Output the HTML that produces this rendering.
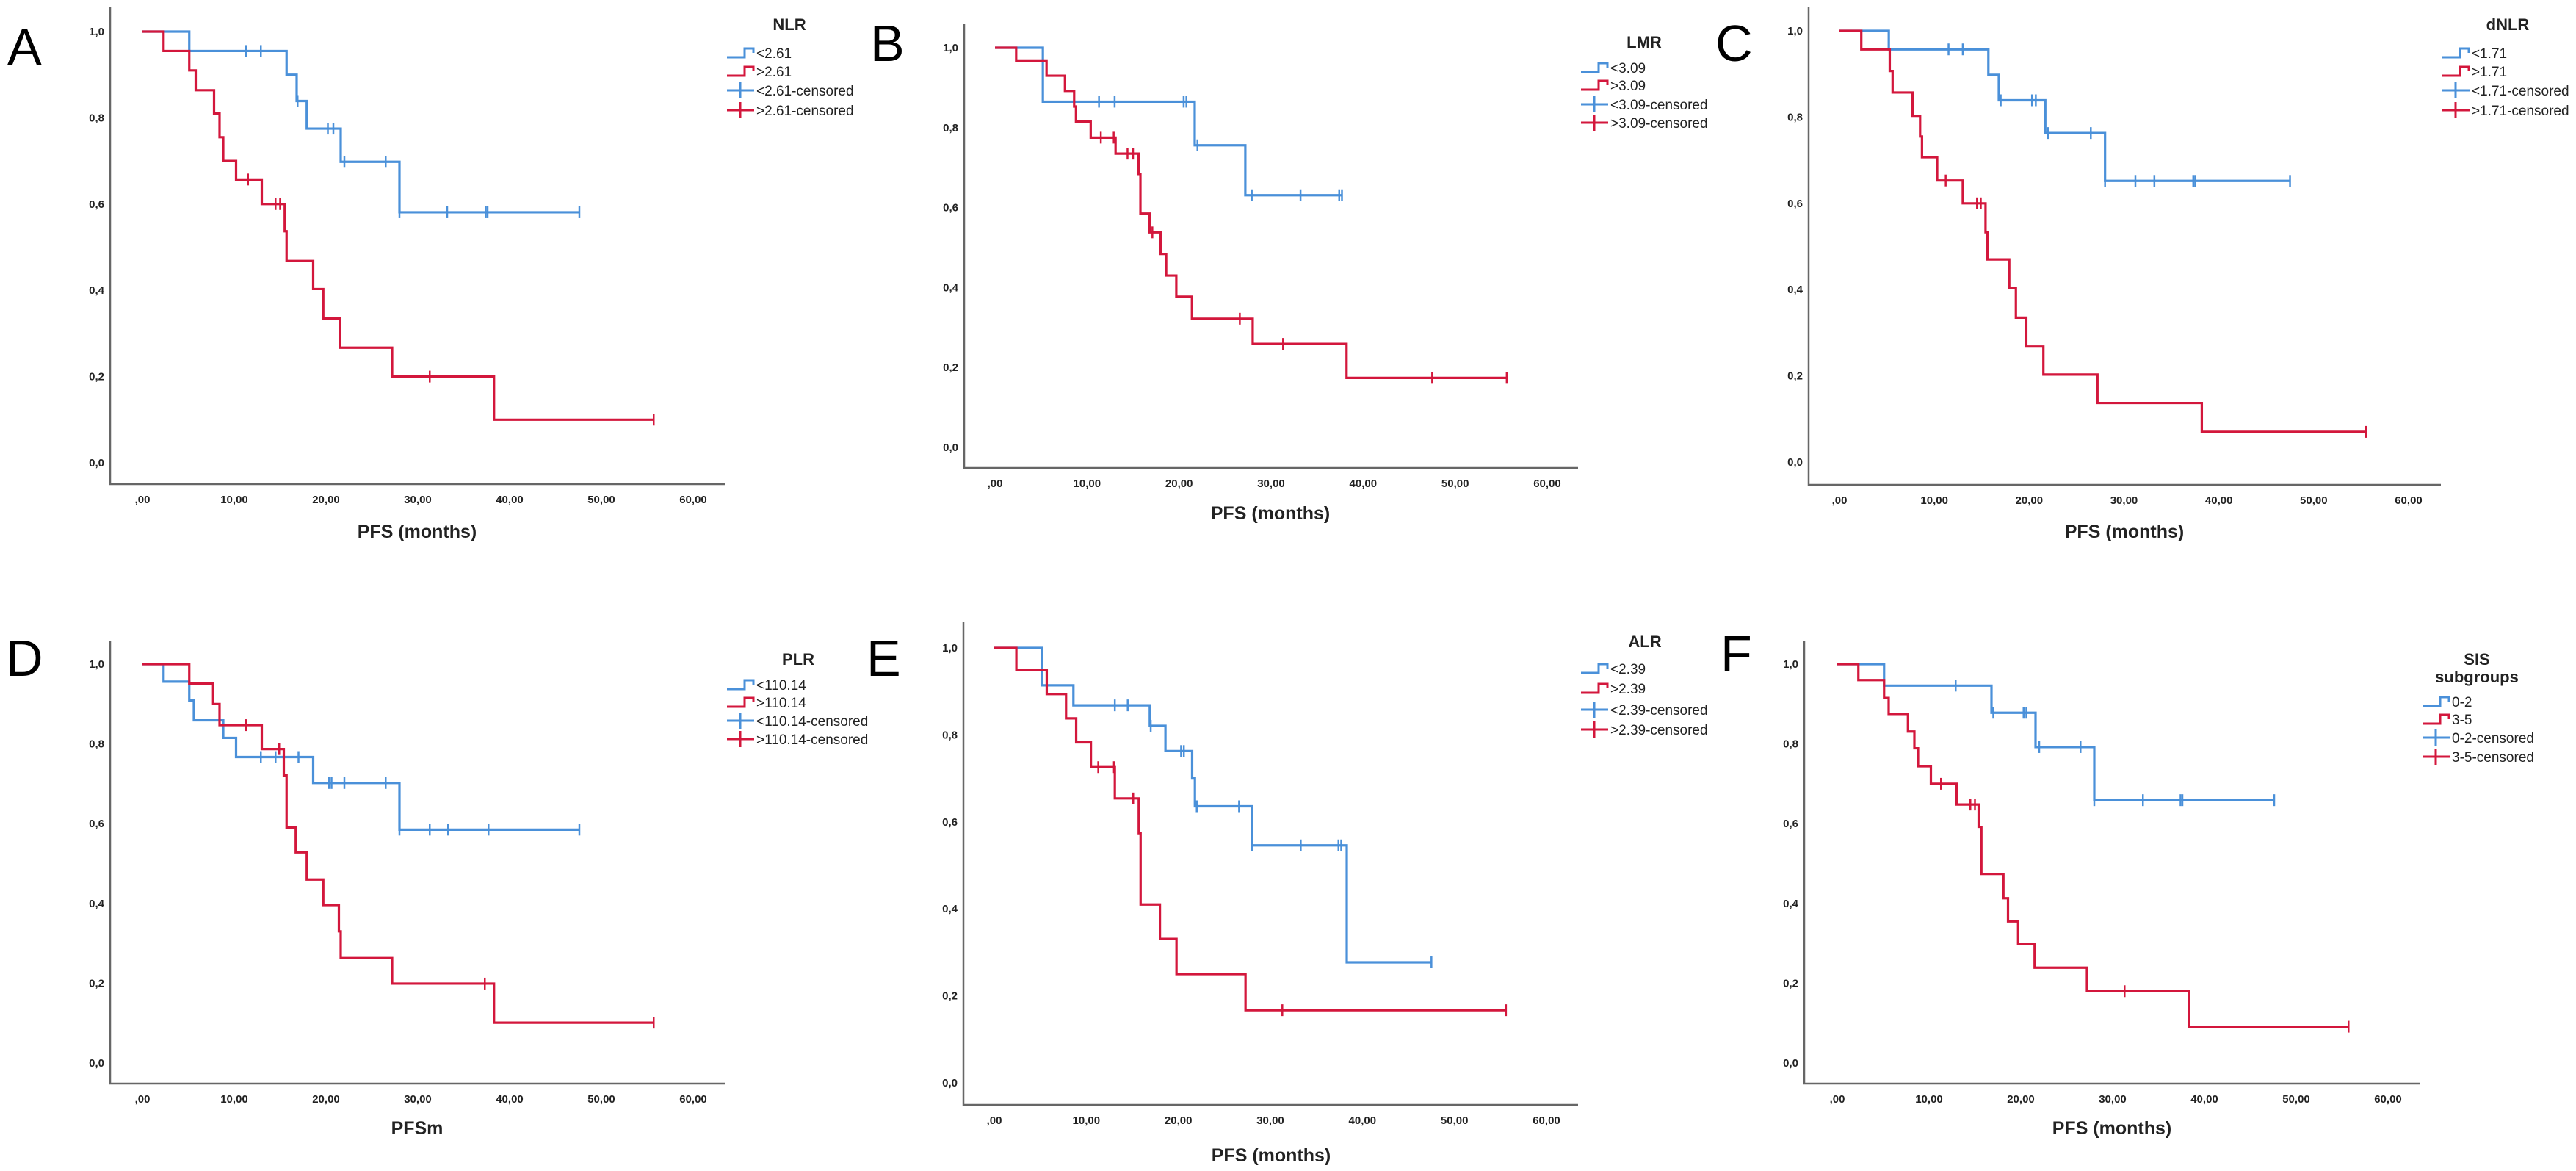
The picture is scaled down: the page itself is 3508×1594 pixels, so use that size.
<!DOCTYPE html>
<html><head><meta charset="utf-8"><style>
html,body{margin:0;padding:0;background:#fff;}
svg{display:block;font-family:"Liberation Sans",sans-serif;}
.tk{font-size:15px;font-weight:bold;fill:#222;}
.lg{font-size:19px;fill:#222;}
.lt{font-size:22px;font-weight:bold;fill:#222;}
.at{font-size:25px;font-weight:bold;fill:#222;}
.pl{font-size:70px;fill:#000;}
</style></head><body>
<svg id="fig" width="3508" height="1594" viewBox="0 0 3508 1594"></svg>
<script>
// ---- data (months, survival) ----
const xTicks=[0,10,20,30,40,50,60];
const xTickLabels=[",00","10,00","20,00","30,00","40,00","50,00","60,00"];
const yTicks=[0,0.2,0.4,0.6,0.8,1.0];
const yTickLabels=["0,0","0,2","0,4","0,6","0,8","1,0"];

const A_blueT=[5.1,15.7,16.8,17.9,21.6,28.0];
const A_blueS=[0.955,0.90,0.839,0.775,0.698,0.581];
const A_blueC=[11.3,12.9,16.9,20.2,20.8,22.0,26.5,28.0,33.2,37.4,37.6,47.6];
const A_redT=[2.3,5.1,5.8,7.8,8.4,8.8,10.2,13.0,15.5,15.7,18.6,19.7,21.5,27.2,38.3];
const A_redS=[0.955,0.91,0.864,0.81,0.755,0.70,0.657,0.60,0.537,0.468,0.403,0.335,0.267,0.20,0.10];
const A_redC=[11.5,14.5,15.0,31.3,55.7];

const B_blueT=[5.2,21.7,27.2];
const B_blueS=[0.865,0.756,0.631];
const B_blueC=[11.3,13.0,20.5,20.8,22.0,27.9,33.2,37.4,37.7];
const B_redT=[2.3,5.6,7.6,8.6,8.8,10.4,13.1,15.6,15.8,16.8,18.0,18.6,19.7,21.4,28.0,38.2];
const B_redS=[0.968,0.93,0.892,0.853,0.815,0.775,0.735,0.684,0.585,0.538,0.484,0.43,0.377,0.322,0.259,0.174];
const B_redC=[11.5,12.9,14.4,15.0,17.1,26.6,31.3,47.5,55.6];

const C_blueT=[5.2,15.7,16.8,21.7,28.0];
const C_blueS=[0.957,0.898,0.839,0.763,0.652];
const C_blueC=[11.5,13.0,17.0,20.3,20.7,22.0,26.5,28.0,31.2,33.2,37.3,37.5,47.5];
const C_redT=[2.3,5.3,5.6,7.7,8.5,8.7,10.3,13.0,15.4,15.6,17.9,18.6,19.7,21.5,27.2,38.2];
const C_redS=[0.957,0.907,0.857,0.803,0.755,0.707,0.653,0.60,0.533,0.47,0.403,0.335,0.268,0.203,0.137,0.07];
const C_redC=[11.2,14.5,14.9,55.5];

const D_blueT=[2.3,5.1,5.6,8.8,10.2,18.6,28.0];
const D_blueS=[0.956,0.909,0.859,0.815,0.767,0.702,0.585];
const D_blueC=[12.9,14.5,17.0,20.3,20.6,22.0,26.5,28.0,31.3,33.3,37.7,47.6];
const D_redT=[5.1,7.7,8.4,13.0,15.4,15.7,16.7,17.9,19.7,21.4,21.6,27.2,38.3];
const D_redS=[0.951,0.90,0.847,0.787,0.721,0.59,0.528,0.46,0.396,0.33,0.263,0.199,0.101];
const D_redC=[11.3,14.9,37.3,55.7];

const E_blueT=[5.2,8.6,16.9,18.6,21.5,21.8,28.0,38.3];
const E_blueS=[0.914,0.868,0.821,0.763,0.70,0.636,0.546,0.277];
const E_blueC=[13.1,14.5,17.0,20.3,20.6,22.0,26.6,28.0,33.3,37.4,37.7,47.5];
const E_redT=[2.4,5.7,7.8,8.9,10.5,13.1,15.7,15.9,18.0,19.8,27.3];
const E_redS=[0.95,0.894,0.838,0.783,0.726,0.654,0.574,0.41,0.331,0.25,0.167];
const E_redC=[11.3,13.0,15.1,31.3,55.6];

const F_blueT=[5.1,16.8,21.6,28.0];
const F_blueS=[0.946,0.878,0.792,0.659];
const F_blueC=[12.9,17.0,20.3,20.6,22.0,26.5,28.0,33.3,37.4,37.6,47.6];
const F_redT=[2.3,5.1,5.6,7.7,8.4,8.8,10.2,13.0,15.4,15.7,18.1,18.6,19.7,21.5,27.2,38.3];
const F_redS=[0.96,0.915,0.875,0.831,0.789,0.744,0.70,0.648,0.592,0.474,0.413,0.355,0.298,0.239,0.18,0.091];
const F_redC=[11.3,14.5,15.0,31.3,55.7];

// ---- layout ----
const panels=[
 {id:"a",letter:"A",lx:10,ly:88,ax:150,top:9,xb:659,right:987,y1:43,y0:630,x0:194,x60:944,title:"PFS (months)",tx:568,ty:732,
  legT:["NLR"],legX:1075,legY:[33],ent:[72,97,123,150],symX:990,labs:["<2.61",">2.61","<2.61-censored",">2.61-censored"],
  bT:A_blueT,bS:A_blueS,bC:A_blueC,rT:A_redT,rS:A_redS,rC:A_redC},
 {id:"b",letter:"B",lx:1185,ly:83,ax:1313,top:33,xb:637,right:2149,y1:65,y0:609,x0:1355,x60:2107,title:"PFS (months)",tx:1730,ty:707,
  legT:["LMR"],legX:2239,legY:[57],ent:[92,116,142,167],symX:2153,labs:["<3.09",">3.09","<3.09-censored",">3.09-censored"],
  bT:B_blueT,bS:B_blueS,bC:B_blueC,rT:B_redT,rS:B_redS,rC:B_redC},
 {id:"c",letter:"C",lx:2336,ly:83,ax:2463,top:9,xb:660,right:3324,y1:42,y0:629,x0:2505,x60:3280,title:"PFS (months)",tx:2893,ty:732,
  legT:["dNLR"],legX:3415,legY:[33],ent:[72,97,123,150],symX:3326,labs:["<1.71",">1.71","<1.71-censored",">1.71-censored"],
  bT:C_blueT,bS:C_blueS,bC:C_blueC,rT:C_redT,rS:C_redS,rC:C_redC},
 {id:"d",letter:"D",lx:8,ly:920,ax:150,top:873,xb:1475,right:987,y1:904,y0:1447,x0:194,x60:944,title:"PFSm",tx:568,ty:1544,
  legT:["PLR"],legX:1087,legY:[897],ent:[932,956,981,1006],symX:990,labs:["<110.14",">110.14","<110.14-censored",">110.14-censored"],
  bT:D_blueT,bS:D_blueS,bC:D_blueC,rT:D_redT,rS:D_redS,rC:D_redC},
 {id:"e",letter:"E",lx:1180,ly:920,ax:1312,top:847,xb:1504,right:2149,y1:882,y0:1474,x0:1354,x60:2106,title:"PFS (months)",tx:1731,ty:1581,
  legT:["ALR"],legX:2240,legY:[873],ent:[910,937,966,993],symX:2153,labs:["<2.39",">2.39","<2.39-censored",">2.39-censored"],
  bT:E_blueT,bS:E_blueS,bC:E_blueC,rT:E_redT,rS:E_redS,rC:E_redC},
 {id:"f",letter:"F",lx:2343,ly:914,ax:2457,top:873,xb:1475,right:3295,y1:904,y0:1447,x0:2502,x60:3252,title:"PFS (months)",tx:2876,ty:1544,
  legT:["SIS","subgroups"],legX:3373,legY:[897,921],ent:[955,979,1004,1030],symX:3299,labs:["0-2","3-5","0-2-censored","3-5-censored"],
  bT:F_blueT,bS:F_blueS,bC:F_blueC,rT:F_redT,rS:F_redS,rC:F_redC}
];
const BLUE="#4a90d9", RED="#d3173c";
const NS="http://www.w3.org/2000/svg";
const svg=document.getElementById("fig");
function mk(tag,attrs,parent,text){const e=document.createElementNS(NS,tag);for(const k in attrs)e.setAttribute(k,attrs[k]);if(text!==undefined)e.textContent=text;parent.appendChild(e);return e;}
function survAt(T,S,c){let v=1;for(let i=0;i<T.length;i++){if(T[i]<=c)v=S[i];}return v;}

panels.forEach(p=>{
  const g=mk("g",{},svg);
  
  
  const X=t=>p.x0+(t/60)*(p.x60-p.x0);
  const Y=v=>p.y0-(v)*(p.y0-p.y1);
  const L=mk("text",{x:p.lx,y:p.ly,class:"pl"},g,p.letter);
  
  
  // axes
  const ax=mk("path",{d:`M${p.ax},${p.top} V${p.xb} H${p.right}`,stroke:"#666",fill:"none","stroke-width":2.5},g);
  
  
  yTicks.forEach((v,i)=>{const t=mk("text",{x:p.ax-8,y:Y(v)+5,class:"tk","text-anchor":"end"},g,yTickLabels[i]);
    
    });
  xTicks.forEach((v,i)=>{const t=mk("text",{x:X(v),y:p.xb+26,class:"tk","text-anchor":"middle"},g,xTickLabels[i]);
    
    });
  const at=mk("text",{x:p.tx,y:p.ty,class:"at","text-anchor":"middle"},g,p.title);
  
  
  // curves
  [[p.bT,p.bS,p.bC,BLUE,"low"],[p.rT,p.rS,p.rC,RED,"high"]].forEach(([T,S,C,col,nm])=>{
    let d=`M${X(0)},${Y(1)}`;
    for(let i=0;i<T.length;i++){d+=` H${X(T[i])} V${Y(S[i])}`;}
    const end=Math.max(...C,T[T.length-1]);
    d+=` H${X(end)}`;
    const path=mk("path",{d:d,stroke:col,fill:"none","stroke-width":3.2},g);
    
    
    C.forEach(c=>{const v=survAt(T,S,c);
      const m=mk("line",{x1:X(c),x2:X(c),y1:Y(v)-8,y2:Y(v)+8,stroke:col,"stroke-width":2.5},g);
      
      });
  });
  // legend
  p.legT.forEach((t,i)=>{const e=mk("text",{x:p.legX,y:p.legY[i]+8,class:"lt","text-anchor":"middle"},g,t);
    
    });
  const cols=[BLUE,RED,BLUE,RED];
  p.labs.forEach((lab,i)=>{
    const y=p.ent[i], x=p.symX;
    const lg=mk("g",{},g);
    
    
    if(i<2){mk("path",{d:`M${x},${y+6} H${x+24} V${y-6} H${x+36} V${y}`,stroke:cols[i],fill:"none","stroke-width":3},lg);}
    else{mk("path",{d:`M${x},${y} H${x+37} M${x+18},${y-11} V${y+11}`,stroke:cols[i],fill:"none","stroke-width":3},lg);}
    mk("text",{x:x+40,y:y+7,class:"lg"},lg,lab);
  });
});
</script>
</body></html>
